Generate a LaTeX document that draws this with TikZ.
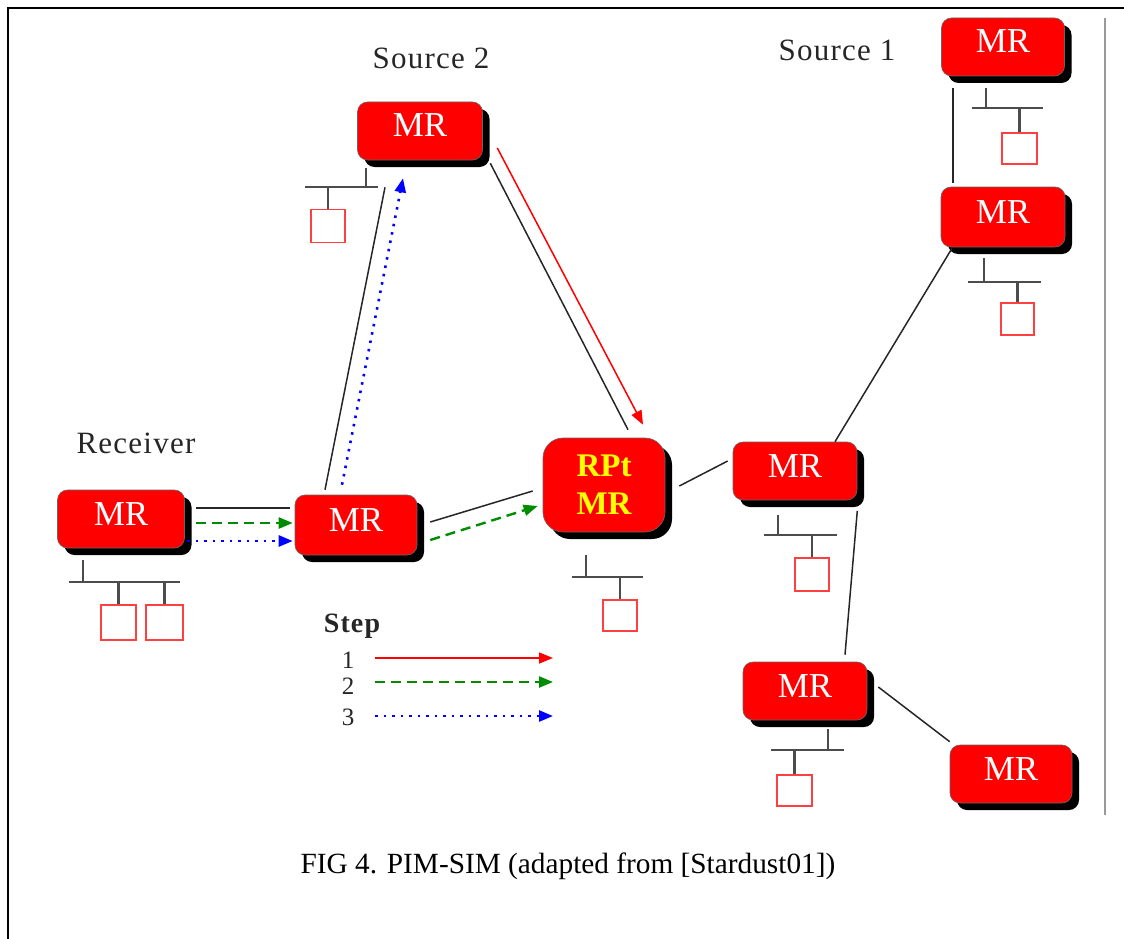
\documentclass[tikz,border=0pt]{standalone}
\usepackage{fontspec}
\setmainfont{Liberation Serif}
\newfontfamily\lblfont[LetterSpace=4]{Liberation Serif}
\usetikzlibrary{arrows.meta,shadows}

\definecolor{routerred}{RGB}{255,0,0}
\definecolor{steptwo}{RGB}{0,140,0}
\definecolor{stepthree}{RGB}{0,0,255}
\definecolor{rptyellow}{RGB}{255,255,0}

\tikzset{
  router/.style={rectangle, rounded corners=10pt, fill=routerred, draw=black!60,
    line width=0.6pt, minimum width=124pt, minimum height=58pt, inner sep=0pt,
    text=white, font=\fontsize{35}{37}\selectfont, text height=24pt, text depth=12pt,
    drop shadow={shadow xshift=7pt, shadow yshift=-7pt, fill=black, opacity=1}},
  host/.style={rectangle, draw=red!75, line width=1.3pt, fill=white,
    minimum width=34pt, minimum height=33pt, inner sep=0pt},
  lan/.style={draw=black!70, line width=2.2pt},
  link/.style={draw=black!85, line width=1.5pt},
  tip/.style={-{Triangle[length=14pt,width=11pt]}},
  stepone/.style={tip, draw=routerred, line width=1.5pt},
  steptwoline/.style={tip, draw=steptwo, line width=2.4pt, dash pattern=on 10pt off 6pt},
  stepthreeline/.style={tip, draw=stepthree, line width=2.6pt, dash pattern=on 2.5pt off 6pt},
  lbl/.style={font=\lblfont\fontsize{31}{33}\selectfont, text=black!85, inner sep=0pt},
  num/.style={font=\fontsize{25}{27}\selectfont, text=black!85, inner sep=0pt},
}

\begin{document}
\begin{tikzpicture}[x=1pt,y=-1pt]
\useasboundingbox (0,0) rectangle (1124,939);

% outer frame and right rule
\draw[line width=2pt] (8,939) -- (8,8) -- (1124,8);
\draw[black!40, line width=1.2pt] (1105,18) -- (1105,815);

% routers
\node[router, minimum width=127pt] (rx) at (121,519) {MR};
\node[router, minimum width=122pt, minimum height=60pt] (m1) at (356,525) {MR};
\node[router, minimum width=125pt] (s2) at (420,131) {MR};
\node[router, rounded corners=20pt, minimum width=122pt, minimum height=94pt,
      text=rptyellow, align=center, font=\bfseries\fontsize{33}{38}\selectfont,
      text height=, text depth=] (rp) at (604,485) {RPt\\MR};
\node[router] (m2) at (795,471) {MR};
\node[router, minimum width=123pt] (s1a) at (1003,47) {MR};
\node[router, minimum height=60pt] (s1b) at (1003,217) {MR};
\node[router] (m3) at (805,691) {MR};
\node[router, minimum width=122pt] (m4) at (1011,774) {MR};

% labels
\node[lbl] (src2) at (431,58) {Source 2};
\node[lbl] (src1) at (837,50) {Source 1};
\node[lbl] (recv) at (136,443) {Receiver};

% receiver LAN
\node[host, minimum width=35pt, minimum height=35pt] (rxh1) at (118.5,622.5) {};
\node[host, minimum width=37pt, minimum height=35pt] (rxh2) at (164.5,622.5) {};
\coordinate (rxbus) at (69,582);
\draw[lan] (rxbus) -- ++(111,0);
\draw[lan] ([xshift=-38pt,yshift=-12pt]rx.south) -- ([xshift=-38pt]rx.south |- rxbus);
\draw[lan] (rxh1.north) -- (rxh1.north |- rxbus);
\draw[lan] (rxh2.north) -- (rxh2.north |- rxbus);

% source 2 LAN
\node[host] (s2h) at (328,226) {};
\coordinate (s2bus) at (305,187);
\draw[lan] (s2bus) -- ++(73,0);
\draw[lan] ([xshift=-54pt,yshift=-8pt]s2.south) -- ([xshift=-54pt]s2.south |- s2bus);
\draw[lan] (s2h.north) -- (s2h.north |- s2bus);

% RP LAN
\node[host, minimum height=31pt] (rph) at (620,615.5) {};
\coordinate (rpbus) at (572,577);
\draw[lan] (rpbus) -- ++(71,0);
\draw[lan] ([xshift=-18pt,yshift=-23pt]rp.south) -- ([xshift=-18pt]rp.south |- rpbus);
\draw[lan] (rph.north) -- (rph.north |- rpbus);

% middle-right router LAN
\node[host] (m2h) at (812,574.5) {};
\coordinate (m2bus) at (764,535);
\draw[lan] (m2bus) -- ++(73,0);
\draw[lan] ([xshift=-17pt,yshift=-14.5pt]m2.south) -- ([xshift=-17pt]m2.south |- m2bus);
\draw[lan] (m2h.north) -- (m2h.north |- m2bus);

% source 1 upper LAN
\node[host, minimum width=35pt, minimum height=31pt] (s1ah) at (1019.5,148.5) {};
\coordinate (s1abus) at (972,108);
\draw[lan] (s1abus) -- ++(71,0);
\draw[lan] ([xshift=-17pt,yshift=-11.5pt]s1a.south) -- ([xshift=-17pt]s1a.south |- s1abus);
\draw[lan] (s1ah.north) -- (s1ah.north |- s1abus);

% source 1 lower LAN
\node[host, minimum width=33pt, minimum height=32pt] (s1bh) at (1017.5,319) {};
\coordinate (s1bbus) at (968,282);
\draw[lan] (s1bbus) -- ++(73,0);
\draw[lan] ([xshift=-19pt,yshift=-11pt]s1b.south) -- ([xshift=-19pt]s1b.south |- s1bbus);
\draw[lan] (s1bh.north) -- (s1bh.north |- s1bbus);

% lower router LAN
\node[host, minimum width=35pt, minimum height=31pt] (m3h) at (794.5,790.5) {};
\coordinate (m3bus) at (771,750);
\draw[lan] (m3bus) -- ++(73,0);
\draw[lan] ([xshift=23pt,yshift=-9pt]m3.south) -- ([xshift=23pt]m3.south |- m3bus);
\draw[lan] (m3h.north) -- (m3h.north |- m3bus);

% links
\draw[link] ([xshift=11.5pt,yshift=11pt]rx.east) -- ([xshift=-5pt,yshift=17pt]m1.west);
\draw[link] ([xshift=-31pt,yshift=5pt]m1.north) -- ([xshift=-35pt,yshift=-27pt]s2.south);
\draw[link] ([xshift=7.5pt,yshift=-3pt]s2.south east) -- ([xshift=24pt,yshift=8pt]rp.north);
\draw[link] ([xshift=13pt,yshift=3pt]m1.east) -- ([xshift=-10pt,yshift=-6pt]rp.west);
\draw[link] ([xshift=14pt,yshift=-1pt]rp.east) -- ([xshift=-5pt,yshift=10pt]m2.west);
\draw[link] ([xshift=40pt]m2.north) -- ([xshift=-51pt,yshift=-1pt]s1b.south);
\draw[link] ([xshift=-50pt,yshift=-11.5pt]s1a.south) -- ([xshift=-50pt,yshift=4pt]s1b.north);
\draw[link] ([yshift=-10.5pt]m2.south east) -- ([xshift=40pt,yshift=7pt]m3.north);
\draw[link] ([xshift=11pt,yshift=4pt]m3.east) -- ([yshift=3pt]m4.north west);

% join messages
\draw[stepone] ([xshift=14.5pt,yshift=-17pt]s2.east) -- ([xshift=39pt,yshift=13pt]rp.north);
\draw[steptwoline] ([xshift=11.5pt,yshift=-4pt]rx.east) -- ([xshift=-2pt,yshift=2pt]m1.west);
\draw[steptwoline] ([xshift=13pt,yshift=-15pt]m1.east) -- ([xshift=-5pt,yshift=-21pt]rp.west);
\draw[stepthreeline] ([xshift=2.5pt,yshift=-22pt]rx.east) -- ([xshift=-2pt,yshift=-16pt]m1.west);
\draw[stepthreeline] ([xshift=-14pt,yshift=10pt]m1.north) -- ([xshift=-17pt,yshift=-18pt]s2.south);

% legend
\node[font=\bfseries\lblfont\fontsize{28}{30}\selectfont, text=black!85, inner sep=0pt] (steptitle) at (352,626) {Step};
\node[num] (n1) at (348,660) {1};
\node[num] (n2) at (348,686) {2};
\node[num] (n3) at (348,717) {3};
\coordinate (a1) at (375,658); \coordinate (b1) at (553,658);
\coordinate (a2) at (375,682); \coordinate (b2) at (553,682);
\coordinate (a3) at (375,716); \coordinate (b3) at (553,716);
\draw[stepone] (a1) -- (b1);
\draw[steptwoline] (a2) -- (b2);
\draw[stepthreeline] (a3) -- (b3);

% caption
\node[font=\fontsize{29.3}{31}\selectfont, inner sep=0pt] (caption) at (568,866) {FIG 4. PIM-SIM (adapted from [Stardust01])};
\end{tikzpicture}
\end{document}
